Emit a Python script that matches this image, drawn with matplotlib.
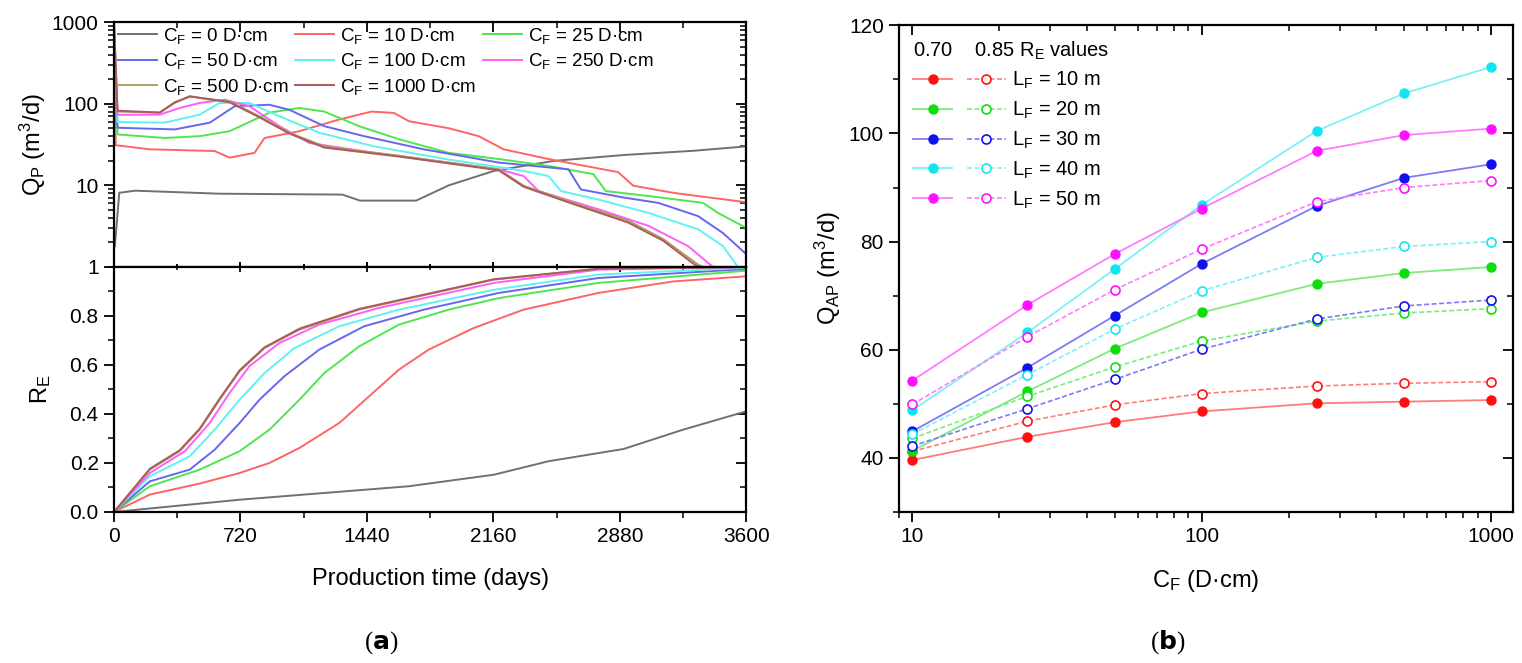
import numpy as np
import matplotlib
matplotlib.use('Agg')
import matplotlib.pyplot as plt
import matplotlib.colors as mcolors
from matplotlib.ticker import MultipleLocator, LogLocator, NullFormatter, FixedLocator
from matplotlib.legend_handler import HandlerTuple
from matplotlib.lines import Line2D

plt.rcParams['font.family'] = ['Liberation Sans', 'DejaVu Sans']
plt.rcParams['mathtext.fontset'] = 'custom'
plt.rcParams['mathtext.rm'] = 'Liberation Sans'
plt.rcParams['mathtext.it'] = 'Liberation Sans'

##############################################################################
# (a) production rate Q_P (m3/d) and recovery R_E vs time, per C_F
cf_labels = ['0', '10', '25', '50', '100', '250', '500', '1000']
cf_colors = ['#707070', '#ff6464', '#4ee64e', '#6666ee', '#5ef2f2', '#ff5cff', '#ae9f62', '#ab5b5b']

qp_days = {
    '0':    [0, 5, 30, 120, 600, 1300, 1400, 1720, 1906, 2162, 2502, 2900, 3300, 3600],
    '10':   [0, 10, 204, 573, 658, 800, 857, 1055, 1282, 1466, 1594, 1679, 1906, 2076, 2218, 2473, 2870, 2956, 3183, 3600],
    '25':   [0, 20, 289, 488, 658, 885, 1055, 1197, 1396, 1623, 1906, 2190, 2473, 2729, 2800, 3041, 3353, 3438, 3600],
    '50':   [0, 20, 346, 545, 687, 885, 999, 1197, 1424, 1764, 2190, 2587, 2658, 2899, 3098, 3325, 3467, 3600],
    '100':  [0, 20, 289, 488, 601, 771, 942, 1169, 1481, 1906, 2332, 2473, 2545, 2757, 3041, 3325, 3467, 3552],
    '250':  [0, 20, 261, 374, 488, 630, 771, 942, 1112, 1481, 1906, 2190, 2332, 2417, 2757, 3041, 3268, 3410],
    '500':  [0, 20, 261, 346, 431, 545, 658, 828, 999, 1197, 1623, 2190, 2332, 2615, 2927, 3126, 3325, 3353],
    '1000': [0, 20, 261, 346, 431, 545, 658, 828, 999, 1197, 1623, 2190, 2332, 2615, 2927, 3126, 3310, 3340],
}
qp_vals = {
    '0':    [1.7, 1.8, 8.1, 8.6, 7.9, 7.7, 6.5, 6.5, 10, 15, 19.9, 23.5, 26.5, 30],
    '10':   [400, 31, 27.6, 26.3, 21.8, 25, 38, 46, 64, 80, 77, 61, 50, 40, 27.6, 21, 14.5, 9.9, 8.1, 6.2],
    '25':   [600, 42, 38, 40, 46, 77.6, 88.6, 80, 53, 36.6, 25, 21, 17.3, 13.7, 8.5, 7.4, 6.1, 4.6, 3.0],
    '50':   [700, 50.7, 48.4, 58.5, 93, 97, 84, 53, 40, 27.6, 19, 15.7, 8.9, 7.1, 6.1, 4.2, 2.6, 1.43],
    '100':  [800, 59.6, 58.5, 73.5, 102, 102, 70, 44, 30, 20.7, 15.0, 13, 8.5, 6.7, 4.6, 2.9, 1.8, 1.0],
    '250':  [900, 73, 73.5, 88.6, 102, 112, 93, 53, 33, 25, 19, 15.7, 13, 8.5, 5.1, 3.2, 1.8, 1.0],
    '500':  [1000, 80, 77.6, 102, 124, 112, 107, 70, 44, 30, 23, 15.7, 9.9, 6.1, 3.7, 2.2, 1.07, 1.0],
    '1000': [1000, 82, 78, 104, 122, 114, 104, 68, 43, 29, 22.5, 15.3, 9.6, 5.9, 3.5, 2.1, 1.05, 1.0],
}

re_days = {
    '0':    [0, 715, 1679, 2162, 2473, 2900, 3240, 3600],
    '10':   [0, 204, 488, 715, 885, 1055, 1282, 1452, 1622, 1792, 2048, 2332, 2757, 3183, 3600],
    '25':   [0, 204, 488, 715, 885, 1055, 1197, 1396, 1623, 1906, 2190, 2757, 3600],
    '50':   [0, 204, 431, 573, 715, 828, 970, 1169, 1424, 1764, 2190, 2757, 3600],
    '100':  [0, 204, 431, 573, 715, 857, 1027, 1282, 1623, 2162, 2757, 3600],
    '250':  [0, 204, 403, 545, 658, 771, 942, 1169, 1509, 2162, 2757, 3600],
    '500':  [0, 204, 374, 488, 601, 715, 857, 1055, 1396, 2162, 2757, 3600],
    '1000': [0, 204, 374, 488, 601, 715, 857, 1055, 1396, 2162, 2757, 3600],
}
re_vals = {
    '0':    [0, 0.05, 0.105, 0.152, 0.207, 0.257, 0.336, 0.411],
    '10':   [0, 0.071, 0.116, 0.159, 0.200, 0.261, 0.363, 0.472, 0.581, 0.663, 0.751, 0.826, 0.894, 0.941, 0.962],
    '25':   [0, 0.105, 0.173, 0.248, 0.336, 0.458, 0.567, 0.676, 0.765, 0.826, 0.873, 0.935, 0.985],
    '50':   [0, 0.125, 0.173, 0.254, 0.363, 0.458, 0.554, 0.663, 0.758, 0.826, 0.894, 0.955, 0.992],
    '100':  [0, 0.146, 0.227, 0.336, 0.458, 0.567, 0.669, 0.758, 0.826, 0.907, 0.969, 0.997],
    '250':  [0, 0.159, 0.248, 0.363, 0.486, 0.595, 0.690, 0.765, 0.833, 0.935, 0.989, 1.0],
    '500':  [0, 0.173, 0.248, 0.336, 0.458, 0.574, 0.669, 0.744, 0.826, 0.948, 0.992, 1.0],
    '1000': [0, 0.176, 0.252, 0.340, 0.462, 0.578, 0.672, 0.748, 0.829, 0.950, 0.993, 1.0],
}

##############################################################################
# (b) Q_AP vs C_F for several fracture lengths, at R_E = 0.70 and 0.85
cf = [10, 25, 50, 100, 250, 500, 1000]
lf_labels = ['10', '20', '30', '40', '50']
lf_colors = ['#ff1010', '#10dd10', '#1010ee', '#10e6f0', '#ff10ff']
qap_070 = {
    '10': [39.6, 43.9, 46.6, 48.6, 50.1, 50.4, 50.7],
    '20': [41.3, 52.3, 60.2, 66.9, 72.2, 74.2, 75.3],
    '30': [44.9, 56.7, 66.3, 75.9, 86.6, 91.8, 94.3],
    '40': [48.8, 63.2, 74.9, 86.8, 100.5, 107.4, 112.3],
    '50': [54.3, 68.3, 77.7, 86.1, 96.8, 99.7, 100.9],
}
qap_085 = {
    '10': [41.2, 46.8, 49.8, 51.9, 53.3, 53.8, 54.1],
    '20': [43.6, 51.4, 56.8, 61.6, 65.3, 66.8, 67.6],
    '30': [42.2, 49.1, 54.5, 60.1, 65.7, 68.1, 69.2],
    '40': [44.4, 55.4, 63.8, 70.9, 77.1, 79.1, 80.0],
    '50': [49.9, 62.4, 71.1, 78.6, 87.4, 90.0, 91.3],
}


def lighter(c, f=0.45):
    r, g, b = mcolors.to_rgb(c)
    return (r + (1 - r) * f, g + (1 - g) * f, b + (1 - b) * f)


def style_ax(ax):
    # Origin look: ticks out on left/bottom, in on top/right
    ax.tick_params(which='both', top=True, right=True, labelsize=15, pad=4)
    ax.tick_params(axis='x', which='both', direction='out')
    ax.tick_params(axis='y', which='both', direction='out')
    ax.tick_params(which='major', length=7, width=1.3)
    ax.tick_params(which='minor', length=4, width=1.1)
    for s in ax.spines.values():
        s.set_linewidth(1.6)


def inner_ticks(ax):
    # flip the mirrored ticks (top / right) so they point into the axes
    for t in ax.xaxis.get_major_ticks() + ax.xaxis.get_minor_ticks():
        t.tick2line.set_marker(3)
    for t in ax.yaxis.get_major_ticks() + ax.yaxis.get_minor_ticks():
        t.tick2line.set_marker(0)


fig = plt.figure(figsize=(15.22, 6.63), dpi=100)
ax1 = fig.add_axes([0.0749, 0.5973, 0.4155, 0.3695])
ax2 = fig.add_axes([0.0749, 0.2278, 0.4155, 0.3695], sharex=ax1)
ax3 = fig.add_axes([0.5907, 0.2278, 0.4034, 0.7340])

# top: Q_P
lines = {}
for lab, col in zip(cf_labels, cf_colors):
    ln, = ax1.plot(qp_days[lab], qp_vals[lab], color=col, lw=1.4,
                   label='C$_F$ = ' + lab + ' D·cm')
    lines[lab] = ln
ax1.set_yscale('log')
ax1.set_ylim(1, 1000)
ax1.set_xlim(0, 3600)
ax1.yaxis.set_major_locator(FixedLocator([1, 10, 100, 1000]))
ax1.yaxis.set_major_formatter(plt.FuncFormatter(lambda v, p: '%g' % v))
ax1.yaxis.set_minor_locator(LogLocator(base=10, subs=np.arange(2, 10)))
ax1.yaxis.set_minor_formatter(NullFormatter())
ax1.set_ylabel('Q$_P$ (m$^3$/d)', fontsize=17, labelpad=3)
order = ['0', '50', '500', '10', '100', '1000', '25', '250']
ax1.legend([lines[k] for k in order], [lines[k].get_label() for k in order],
           ncol=3, loc='upper left', frameon=False, fontsize=13.5,
           handlelength=2.1, handletextpad=0.3, columnspacing=0.35,
           labelspacing=0.3, borderaxespad=0.05, borderpad=0.15)
style_ax(ax1)
ax1.tick_params(axis='x', which='both', direction='inout')
plt.setp(ax1.get_xticklabels(), visible=False)

# bottom: R_E
for lab, col in zip(cf_labels, cf_colors):
    ax2.plot(re_days[lab], re_vals[lab], color=col, lw=1.4)
ax2.set_ylim(0, 1)
ax2.xaxis.set_major_locator(MultipleLocator(720))
ax2.xaxis.set_minor_locator(MultipleLocator(360))
ax2.yaxis.set_major_locator(FixedLocator([0, 0.2, 0.4, 0.6, 0.8]))
ax2.yaxis.set_major_formatter(plt.FuncFormatter(lambda v, p: '%.1f' % v))
ax2.yaxis.set_minor_locator(MultipleLocator(0.1))
ax2.set_ylabel('R$_E$', fontsize=17, labelpad=12)
ax2.set_xlabel('Production time (days)', fontsize=17, labelpad=16)
style_ax(ax2)

# right: Q_AP
handles = []
for lab, col in zip(lf_labels, lf_colors):
    ax3.plot(cf, qap_070[lab], color=lighter(col), lw=1.3, zorder=2)
    ax3.plot(cf, qap_070[lab], ls='none', marker='o', ms=6.5,
             mfc=col, mec=col, zorder=3)
    ax3.plot(cf, qap_085[lab], color=lighter(col), lw=1.2, ls=(0, (3, 1.5)), zorder=2)
    ax3.plot(cf, qap_085[lab], ls='none', marker='o', ms=6.5,
             mfc='white', mec=col, mew=1.2, zorder=3)
    h1 = Line2D([], [], color=lighter(col), lw=1.3, marker='o', ms=6.5, mfc=col, mec=col)
    h2 = Line2D([], [], color=lighter(col), lw=1.2, ls=(0, (3, 1.5)), marker='o', ms=6.5,
                mfc='white', mec=col, mew=1.2)
    handles.append((h1, h2))
ax3.set_xscale('log')
ax3.set_xlim(9, 1190)
ax3.set_ylim(30, 120)
ax3.xaxis.set_major_locator(FixedLocator([10, 100, 1000]))
ax3.xaxis.set_major_formatter(plt.FuncFormatter(lambda v, p: '%g' % v))
ax3.xaxis.set_minor_locator(LogLocator(base=10, subs=np.arange(2, 10)))
ax3.xaxis.set_minor_formatter(NullFormatter())
ax3.yaxis.set_major_locator(FixedLocator([40, 60, 80, 100, 120]))
ax3.yaxis.set_minor_locator(MultipleLocator(10))
ax3.set_ylabel('Q$_{AP}$ (m$^3$/d)', fontsize=17, labelpad=4)
ax3.set_xlabel('C$_F$ (D·cm)', fontsize=17, labelpad=16)
leg = ax3.legend(handles, ['L$_F$ = ' + l + ' m' for l in lf_labels],
                 handler_map={tuple: HandlerTuple(ndivide=None, pad=0.7)},
                 loc='upper left', frameon=False, fontsize=14.5,
                 handlelength=4.6, handletextpad=0.3, labelspacing=0.42,
                 title='0.70    0.85 R$_E$ values', title_fontsize=14.5,
                 borderaxespad=0.3)
leg._legend_box.align = 'left'
style_ax(ax3)

fig.canvas.draw()
for a in (ax1, ax2, ax3):
    inner_ticks(a)
for t in ax2.xaxis.get_major_ticks() + ax2.xaxis.get_minor_ticks():
    t.tick2line.set_marker('|')

fig.text(0.2503, 0.022, r'($\mathbf{a}$)', ha='center', fontsize=18, family='Liberation Serif')
fig.text(0.7674, 0.022, r'($\mathbf{b}$)', ha='center', fontsize=18, family='Liberation Serif')

plt.savefig('out.png', dpi=100)
